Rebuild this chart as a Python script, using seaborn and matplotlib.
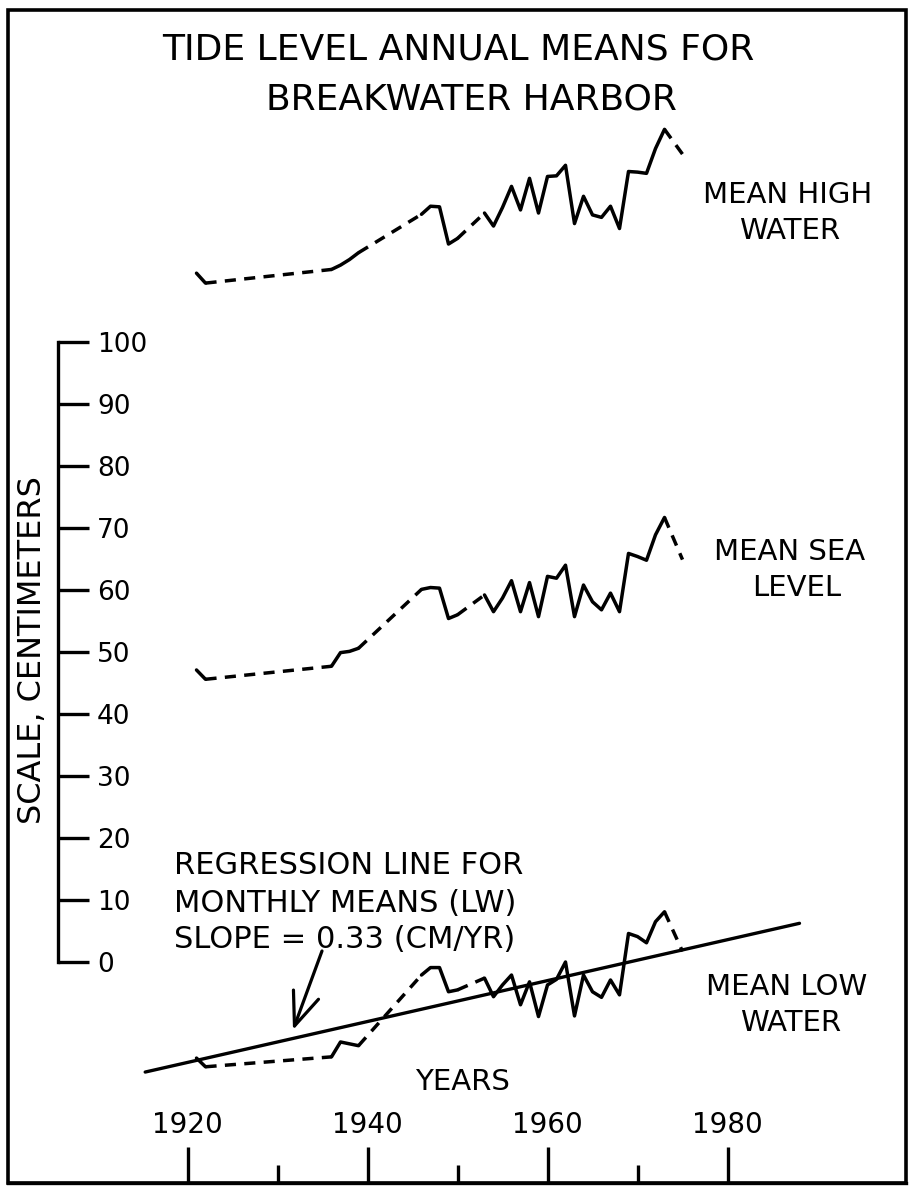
import numpy as np
import pandas as pd
import matplotlib
matplotlib.use("Agg")
import matplotlib.pyplot as plt
import seaborn as sns
from matplotlib.patches import Rectangle

# ---------------- data ----------------
years = [1921, 1922, 1936, 1937, 1938, 1939, 1946, 1947, 1948, 1949, 1950,
         1953, 1954, 1955, 1956, 1957, 1958, 1959, 1960, 1961, 1962, 1963,
         1964, 1965, 1966, 1967, 1968, 1969, 1970, 1971, 1972, 1973, 1975]

mean_high_water = [111.1, 109.5, 111.7, 112.4, 113.3, 114.4, 120.6, 121.9, 121.8,
                   115.8, 116.7, 120.8, 118.7, 121.7, 125.1, 121.3, 126.4, 120.8,
                   126.7, 126.8, 128.5, 119.1, 123.5, 120.5, 120.1, 121.9, 118.3,
                   127.5, 127.4, 127.2, 131.2, 134.3, 130.3]

mean_sea_level = [47.1, 45.6, 47.7, 49.9, 50.1, 50.6, 60.1, 60.4, 60.3,
                  55.4, 56.0, 59.2, 56.5, 58.7, 61.5, 56.5, 61.2, 55.7,
                  62.2, 61.9, 64.0, 55.7, 60.8, 58.1, 56.8, 59.5, 56.5,
                  65.9, 65.4, 64.8, 68.9, 71.7, 64.9]

mean_low_water = [-15.5, -16.9, -15.3, -12.9, -13.2, -13.5, -2.1, -0.9, -0.9,
                  -4.8, -4.5, -2.6, -5.6, -3.7, -2.1, -6.9, -3.2, -8.8,
                  -3.7, -2.8, 0.0, -8.7, -2.1, -4.8, -5.7, -2.9, -5.3,
                  4.6, 4.1, 3.1, 6.5, 8.1, 1.7]

# regression line for monthly means (LW)
reg_slope = 0.33          # cm / yr
reg_value_1920 = -16.2    # cm at 1920
reg_year_span = [1915.3, 1988.0]

scale_ticks = list(range(0, 101, 10))
scale_tick_labels = ["0", "10", "20", "30", "40", "50", "60", "70", "80", "90", "100"]
year_ticks_major = [1920, 1940, 1960, 1980]
year_tick_labels = ["1920", "1940", "1960", "1980"]
year_ticks_minor = [1930, 1950, 1970]

# ---------------- layout ----------------
W, H = 912, 1186
sns.set_style("white")
plt.rcParams["font.family"] = ["DejaVu Sans"]
for key in ["text.color", "axes.labelcolor", "xtick.color", "ytick.color",
            "axes.edgecolor"]:
    plt.rcParams[key] = "black"

fig = plt.figure(figsize=(W / 100, H / 100), dpi=100)
fig.patch.set_facecolor("white")

ax_l, ax_r, ax_t, ax_b = 8, 906, 10, 1183          # axes box in pixels
ax = fig.add_axes([ax_l / W, (H - ax_b) / H, (ax_r - ax_l) / W, (ax_b - ax_t) / H])
ax.set_facecolor("none")

# pixel <-> data calibration: x = 187.5 + 9.0*(yr-1920) ; y = 962 - 6.2*cm
def px_to_year(px):
    return 1920 + (px - 187.5) / 9.0

def py_to_cm(py):
    return (962 - py) / 6.2

ax.set_xlim(px_to_year(ax_l), px_to_year(ax_r))
ax.set_ylim(py_to_cm(ax_b), py_to_cm(ax_t))

LW = 2.5
DASH = (0, (3.2, 2.4))

# ---------------- build frames ----------------
series = {"MHW": mean_high_water, "MSL": mean_sea_level, "MLW": mean_low_water}
solid_rows, dash_rows = [], []
for name, vals in series.items():
    run = 0
    for i, (yr, v) in enumerate(zip(years, vals)):
        if i > 0 and yr - years[i - 1] > 1:
            run += 1
            dash_rows.append((name, f"{name}-g{run}", years[i - 1], vals[i - 1]))
            dash_rows.append((name, f"{name}-g{run}", yr, v))
        solid_rows.append((name, f"{name}-r{run}", yr, v))
solid = pd.DataFrame(solid_rows, columns=["series", "unit", "year", "cm"])
dashed = pd.DataFrame(dash_rows, columns=["series", "unit", "year", "cm"])

sns.lineplot(data=solid, x="year", y="cm", units="unit", estimator=None,
             color="black", linewidth=LW, ax=ax, legend=False, sort=False)
sns.lineplot(data=dashed, x="year", y="cm", units="unit", estimator=None,
             color="black", linewidth=LW, linestyle=DASH, ax=ax, legend=False,
             sort=False)

reg = pd.DataFrame({"year": reg_year_span,
                    "cm": [reg_value_1920 + reg_slope * (y - 1920) for y in reg_year_span]})
sns.lineplot(data=reg, x="year", y="cm", color="black", linewidth=2.4, ax=ax,
             legend=False)

# arrow from the regression note to the line
ax.annotate("", xy=(px_to_year(293), py_to_cm(1030)),
            xytext=(px_to_year(322), py_to_cm(951)),
            arrowprops=dict(arrowstyle="->,head_length=0.8,head_width=0.32",
                            lw=2.3, color="black", mutation_scale=30,
                            shrinkA=0, shrinkB=0))

# ---------------- axes styling ----------------
for s in ["left", "bottom"]:
    ax.spines[s].set_visible(False)
for s in ["top", "right"]:
    ax.spines[s].set_linewidth(2.4)
    ax.spines[s].set_color("black")

# vertical centimetre scale
ax.spines["right"].set_position(("data", px_to_year(58)))
ax.spines["right"].set_bounds(0, 100)
ax.yaxis.set_ticks_position("right")
ax.set_yticks(scale_ticks)
ax.set_yticklabels(scale_tick_labels)
ax.tick_params(axis="y", which="major", direction="out", length=22, width=2.4,
               pad=6, labelsize=19, right=True, left=False,
               labelright=True, labelleft=False, colors="black")

# year axis on the bottom border, ticks pointing up
ax.spines["top"].set_position(("axes", 0.0))
ax.xaxis.set_ticks_position("top")
ax.set_xticks(year_ticks_major)
ax.set_xticklabels(year_tick_labels)
ax.set_xticks(year_ticks_minor, minor=True)
ax.tick_params(axis="x", which="major", direction="out", length=26, width=2.4,
               pad=6, labelsize=20, top=True, bottom=False,
               labeltop=True, labelbottom=False, colors="black")
ax.tick_params(axis="x", which="minor", direction="out", length=13, width=2.4,
               top=True, bottom=False)
ax.set_xlabel("")
ax.set_ylabel("")

# frame
ax.add_patch(Rectangle((0, 0), 1, 1, transform=ax.transAxes, fill=False,
                       lw=2.6, edgecolor="black", clip_on=False))

# ---------------- texts ----------------
def fx(px):
    return px / W

def fy(py):
    return 1 - py / H

TXT = dict(color="black")
fig.text(fx(458), fy(50), "TIDE LEVEL ANNUAL MEANS FOR", ha="center", va="center", fontsize=26, **TXT)
fig.text(fx(471), fy(100), "BREAKWATER HARBOR", ha="center", va="center", fontsize=26, **TXT)

fig.text(fx(788), fy(195), "MEAN HIGH", ha="center", va="center", fontsize=21, **TXT)
fig.text(fx(790), fy(231), "WATER", ha="center", va="center", fontsize=21, **TXT)
fig.text(fx(790), fy(552), "MEAN SEA", ha="center", va="center", fontsize=21, **TXT)
fig.text(fx(797), fy(588), "LEVEL", ha="center", va="center", fontsize=21, **TXT)
fig.text(fx(787), fy(987), "MEAN LOW", ha="center", va="center", fontsize=21, **TXT)
fig.text(fx(791), fy(1023), "WATER", ha="center", va="center", fontsize=21, **TXT)

fig.text(fx(174), fy(866), "REGRESSION LINE FOR", ha="left", va="center", fontsize=22, **TXT)
fig.text(fx(174), fy(903), "MONTHLY MEANS (LW)", ha="left", va="center", fontsize=22, **TXT)
fig.text(fx(174), fy(940), "SLOPE = 0.33 (CM/YR)", ha="left", va="center", fontsize=22, **TXT)

fig.text(fx(462), fy(1082), "YEARS", ha="center", va="center", fontsize=21, **TXT)
fig.text(fx(33), fy(650), "SCALE, CENTIMETERS", ha="center", va="center",
         rotation=90, fontsize=23, **TXT)

fig.savefig("out.png", dpi=100, facecolor="white")
